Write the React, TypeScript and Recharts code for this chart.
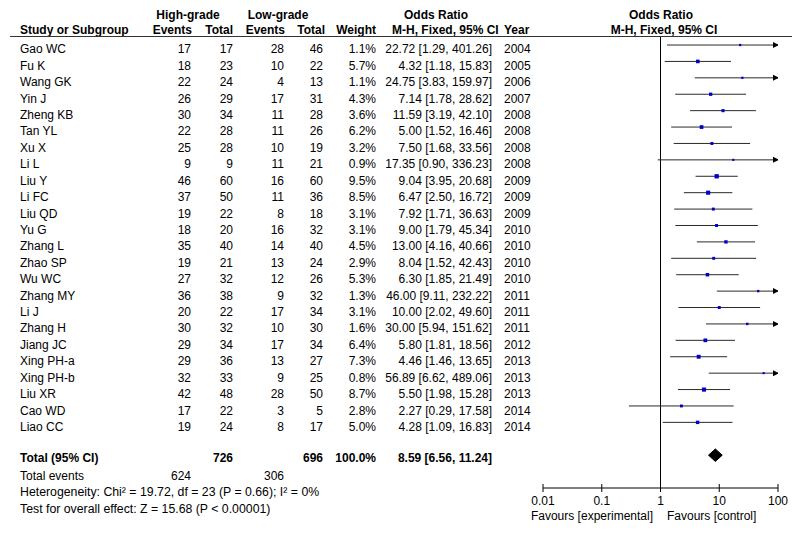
import React from 'react';
import { ComposedChart, Scatter, Area, XAxis, YAxis, ReferenceLine, ErrorBar } from 'recharts';

const studies = [
    'Gao WC', 'Fu K', 'Wang GK', 'Yin J', 'Zheng KB', 'Tan YL', 'Xu X', 'Li L',
    'Liu Y', 'Li FC', 'Liu QD', 'Yu G', 'Zhang L', 'Zhao SP', 'Wu WC', 'Zhang MY',
    'Li J', 'Zhang H', 'Jiang JC', 'Xing PH-a', 'Xing PH-b', 'Liu XR', 'Cao WD', 'Liao CC',
];
const highEvents = [17, 18, 22, 26, 30, 22, 25, 9, 46, 37, 19, 18, 35, 19, 27, 36, 20, 30, 29, 29, 32, 42, 17, 19];
const highTotal = [17, 23, 24, 29, 34, 28, 28, 9, 60, 50, 22, 20, 40, 21, 32, 38, 22, 32, 34, 36, 33, 48, 22, 24];
const lowEvents = [28, 10, 4, 17, 11, 11, 10, 11, 16, 11, 8, 16, 14, 13, 12, 9, 17, 10, 17, 13, 9, 28, 3, 8];
const lowTotal = [46, 22, 13, 31, 28, 26, 19, 21, 60, 36, 18, 32, 40, 24, 26, 32, 34, 30, 34, 27, 25, 50, 5, 17];
const weights = [1.1, 5.7, 1.1, 4.3, 3.6, 6.2, 3.2, 0.9, 9.5, 8.5, 3.1, 3.1, 4.5, 2.9, 5.3, 1.3, 3.1, 1.6, 6.4, 7.3, 0.8, 8.7, 2.8, 5.0];
const oddsRatio = [22.72, 4.32, 24.75, 7.14, 11.59, 5.0, 7.5, 17.35, 9.04, 6.47, 7.92, 9.0, 13.0, 8.04, 6.3, 46.0, 10.0, 30.0, 5.8, 4.46, 56.89, 5.5, 2.27, 4.28];
const ciLow = [1.29, 1.18, 3.83, 1.78, 3.19, 1.52, 1.68, 0.9, 3.95, 2.5, 1.71, 1.79, 4.16, 1.52, 1.85, 9.11, 2.02, 5.94, 1.81, 1.46, 6.62, 1.98, 0.29, 1.09];
const ciHigh = [401.26, 15.83, 159.97, 28.62, 42.1, 16.46, 33.56, 336.23, 20.68, 16.72, 36.63, 45.34, 40.66, 42.43, 21.49, 232.22, 49.6, 151.62, 18.56, 13.65, 489.06, 15.28, 17.58, 16.83];
const years = [2004, 2005, 2006, 2007, 2008, 2008, 2008, 2008, 2009, 2009, 2009, 2010, 2010, 2010, 2010, 2011, 2011, 2011, 2012, 2013, 2013, 2013, 2014, 2014];

const totalHighN = 726;
const totalLowN = 696;
const totalHighEvents = 624;
const totalLowEvents = 306;
const totalOR = 8.59;
const totalLow = 6.56;
const totalHigh = 11.24;
const axisTicks = [0.01, 0.1, 1, 10, 100];

const AXIS_MAX = 100;
const FONT = "'Liberation Sans', Arial, sans-serif";

// table rows -> chart points (CI clipped at the axis end, arrow drawn instead)
const studyPoints = studies.map((name, i) => ({
    name,
    x: oddsRatio[i],
    y: i,
    weight: weights[i],
    err: [oddsRatio[i] - ciLow[i], Math.min(ciHigh[i], AXIS_MAX) - oddsRatio[i]],
}));
const arrowPoints = studies
    .map((name, i) => ({ name, x: AXIS_MAX, y: i, over: ciHigh[i] > AXIS_MAX }))
    .filter(p => p.over);

const totalRow = studies.length + 1;
const diamondData = [
    { x: totalLow, band: [totalRow, totalRow] },
    { x: totalOR, band: [totalRow - 0.38, totalRow + 0.38] },
    { x: totalHigh, band: [totalRow, totalRow] },
];

const Square = (props: any) => {
    const { cx, cy, payload } = props;
    const s = 1.2 + 1.0 * Math.sqrt(payload.weight);
    return <rect x={cx - s / 2} y={cy - s / 2} width={s} height={s} fill="#0000c8" />;
};

const ArrowHead = (props: any) => {
    const { cx, cy } = props;
    return <path d={`M${cx + 1},${cy} L${cx - 5},${cy - 3} L${cx - 5},${cy + 3} Z`} fill="#000" />;
};

const AxisTick = (props: any) => {
    const { x, y, payload } = props;
    return (
        <g>
            <line x1={x} x2={x} y1={y - 4} y2={y + 4} stroke="#000" />
            <text x={x} y={y + 16.5} textAnchor="middle" fontSize={12} fontFamily={FONT} fill="#000">
                {String(payload.value)}
            </text>
        </g>
    );
};

const rowBase = (i: number) => 53.3 + i * 16.42;

const Table: React.FC = () => {
    const t = { fontSize: 12, fontFamily: FONT, fill: '#000' };
    const b = { ...t, fontWeight: 'bold' as const };
    const foot = { ...t, fontSize: 12.3 };
    return (
        <svg width={800} height={533} style={{ position: 'absolute', left: 0, top: 0, pointerEvents: 'none' }}>
            <text x={188} y={19} textAnchor="middle" {...b}>High-grade</text>
            <text x={278} y={19} textAnchor="middle" {...b}>Low-grade</text>
            <text x={436} y={19} textAnchor="middle" {...b}>Odds Ratio</text>
            <text x={661} y={19} textAnchor="middle" {...b}>Odds Ratio</text>
            <text x={20} y={34} {...b}>Study or Subgroup</text>
            <text x={192} y={34} textAnchor="end" {...b}>Events</text>
            <text x={233} y={34} textAnchor="end" {...b}>Total</text>
            <text x={285} y={34} textAnchor="end" {...b}>Events</text>
            <text x={325} y={34} textAnchor="end" {...b}>Total</text>
            <text x={376} y={34} textAnchor="end" {...b}>Weight</text>
            <text x={392} y={34} {...b}>M-H, Fixed, 95% CI</text>
            <text x={504} y={34} {...b}>Year</text>
            <text x={664} y={34} textAnchor="middle" {...b}>M-H, Fixed, 95% CI</text>
            <line x1={10} x2={792} y1={36.5} y2={36.5} stroke="#333" />

            {studies.map((name, i) => (
                <g key={name}>
                    <text x={20} y={rowBase(i)} {...t}>{name}</text>
                    <text x={191} y={rowBase(i)} textAnchor="end" {...t}>{highEvents[i]}</text>
                    <text x={233} y={rowBase(i)} textAnchor="end" {...t}>{highTotal[i]}</text>
                    <text x={284} y={rowBase(i)} textAnchor="end" {...t}>{lowEvents[i]}</text>
                    <text x={323} y={rowBase(i)} textAnchor="end" {...t}>{lowTotal[i]}</text>
                    <text x={376} y={rowBase(i)} textAnchor="end" {...t}>{weights[i].toFixed(1)}%</text>
                    <text x={492} y={rowBase(i)} textAnchor="end" {...t}>
                        {`${oddsRatio[i].toFixed(2)} [${ciLow[i].toFixed(2)}, ${ciHigh[i].toFixed(2)}]`}
                    </text>
                    <text x={504} y={rowBase(i)} {...t}>{years[i]}</text>
                </g>
            ))}

            <text x={20} y={462} {...b}>Total (95% CI)</text>
            <text x={233} y={462} textAnchor="end" {...b}>{totalHighN}</text>
            <text x={323} y={462} textAnchor="end" {...b}>{totalLowN}</text>
            <text x={376} y={462} textAnchor="end" {...b}>100.0%</text>
            <text x={492} y={462} textAnchor="end" {...b}>
                {`${totalOR.toFixed(2)} [${totalLow.toFixed(2)}, ${totalHigh.toFixed(2)}]`}
            </text>
            <text x={20} y={479.5} {...t}>Total events</text>
            <text x={191} y={479.5} textAnchor="end" {...t}>{totalHighEvents}</text>
            <text x={284} y={479.5} textAnchor="end" {...t}>{totalLowEvents}</text>
            <text x={20} y={496} {...foot}>Heterogeneity: Chi² = 19.72, df = 23 (P = 0.66); I² = 0%</text>
            <text x={20} y={512.7} {...foot}>Test for overall effect: Z = 15.68 (P &lt; 0.00001)</text>

            <text x={653} y={519.5} textAnchor="end" {...t}>Favours [experimental]</text>
            <text x={667} y={519.5} {...t}>Favours [control]</text>
        </svg>
    );
};

const App: React.FC = () => {
    return (
        <div style={{ position: 'absolute', left: 0, top: 0, width: 800, height: 533, background: '#fff' }}>
            <ComposedChart
                width={800}
                height={533}
                margin={{ top: 36, right: 22, left: 543, bottom: 0 }}
            >
                <XAxis
                    type="number"
                    dataKey="x"
                    scale="log"
                    domain={[0.01, AXIS_MAX]}
                    ticks={axisTicks}
                    allowDataOverflow
                    height={45}
                    tickSize={0}
                    tickMargin={0}
                    tickLine={false}
                    axisLine={{ stroke: '#000' }}
                    tick={<AxisTick />}
                    interval={0}
                />
                <YAxis type="number" dataKey="y" domain={[-0.55, 27]} reversed hide allowDataOverflow />
                <ReferenceLine x={1} stroke="#000" />
                <Scatter data={studyPoints} shape={<Square />} isAnimationActive={false}>
                    <ErrorBar dataKey="err" direction="x" width={0} stroke="#2a2a2a" strokeWidth={1} />
                </Scatter>
                <Scatter data={arrowPoints} shape={<ArrowHead />} isAnimationActive={false} />
                <Area
                    data={diamondData}
                    dataKey="band"
                    type="linear"
                    stroke="#000"
                    fill="#000"
                    fillOpacity={1}
                    dot={false}
                    activeDot={false}
                    isAnimationActive={false}
                />
            </ComposedChart>
            <Table />
        </div>
    );
};

export default App;
